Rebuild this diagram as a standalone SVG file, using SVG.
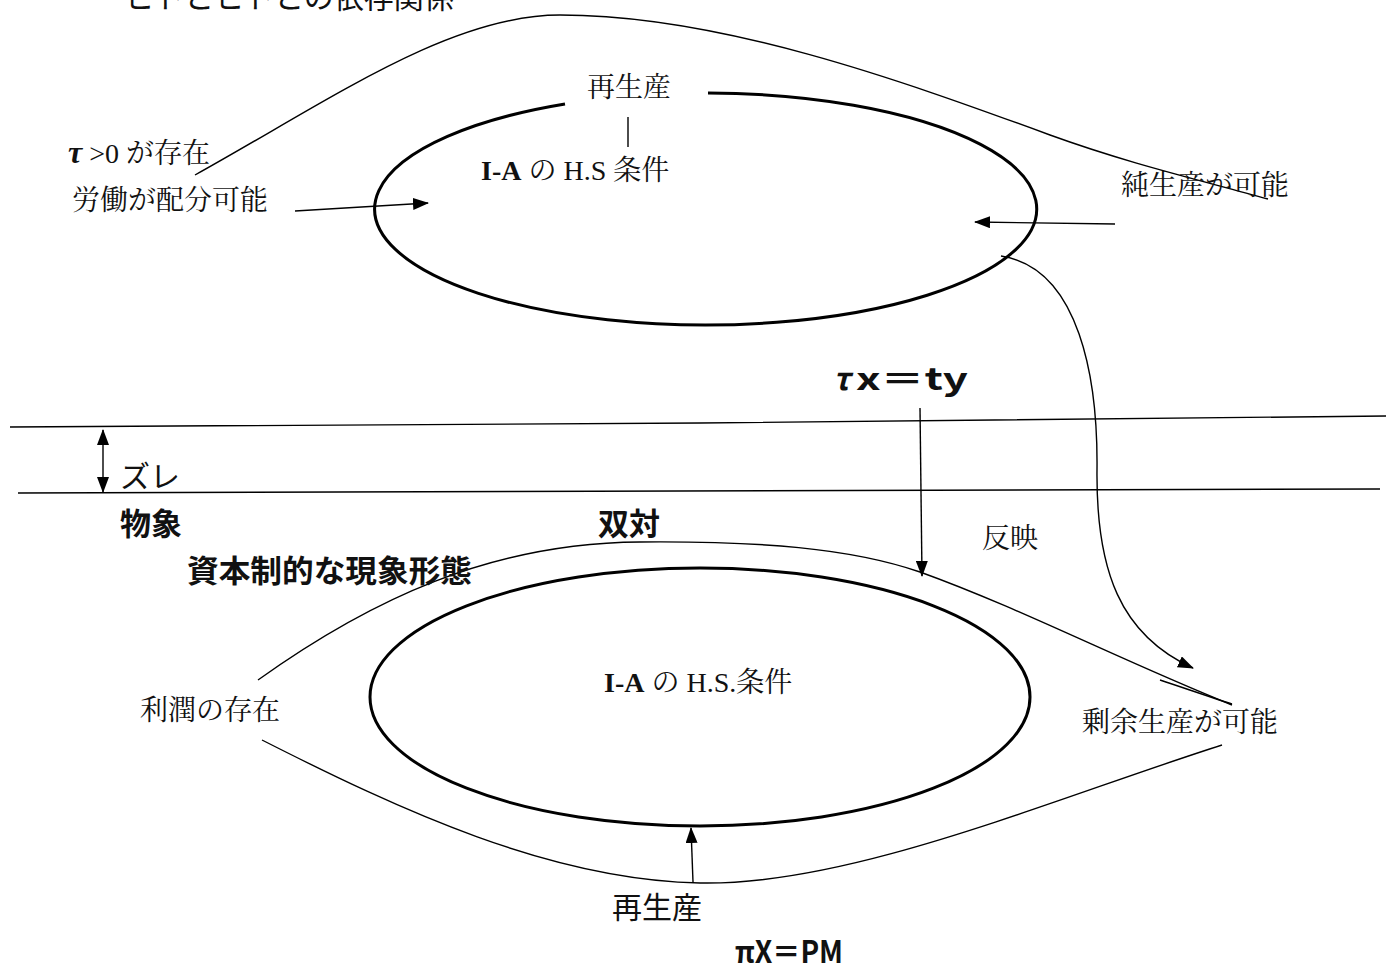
<svg xmlns="http://www.w3.org/2000/svg" width="1386" height="970" viewBox="0 0 1386 970">
<defs>
<marker id="ah" viewBox="0 0 16 12" refX="15" refY="6" markerWidth="16" markerHeight="12" markerUnits="userSpaceOnUse" orient="auto-start-reverse">
<path d="M0,0 L16,6 L0,12 Z" fill="#000"/>
</marker>
</defs>
<style>
.thin{fill:none;stroke:#000;stroke-width:1.4}
.thick{fill:none;stroke:#000;stroke-width:3}
.serif{font-family:"Liberation Serif","Noto Serif CJK JP","Noto Sans CJK JP",serif;font-size:28px;fill:#111}
.sans{font-family:"Noto Sans CJK JP",sans-serif;font-size:30px;fill:#111}
.bold{font-family:"Noto Sans CJK JP",sans-serif;font-size:31px;font-weight:700;fill:#111}
</style>
<rect width="1386" height="970" fill="#fff"/>

<g id="title"><text class="sans" x="124" y="8" font-size="32">ヒトとヒトとの依存関係</text></g>

<g id="connectors">
<path class="thin" d="M195,175 C330,100 450,15 560,15 C720,15 900,80 1050,135 C1130,164 1200,180 1268,199"/>
<path class="thin" d="M295,211 L428,203" marker-end="url(#ah)"/>
<path class="thin" d="M1115,224 L975,222" marker-end="url(#ah)"/>
<path class="thin" d="M628,117 L628,147"/>
<path class="thin" d="M1001,256 C1080,268 1098,380 1097,470 C1096,570 1120,635 1193,668" marker-end="url(#ah)"/>
<path class="thin" d="M10,427 L700,423 L1386,416"/>
<path class="thin" d="M18,493 L1380,489"/>
<path class="thin" d="M103,430 L103,492" marker-start="url(#ah)" marker-end="url(#ah)"/>
<path class="thin" d="M920,408 L922,576" marker-end="url(#ah)"/>
<path class="thin" d="M258,680 C370,600 490,543 640,542 C760,541 850,548 920,572 C1020,608 1120,660 1232,705"/>
<path class="thin" d="M1160,680 C1190,690 1210,697 1232,704"/>
<path class="thin" d="M262,740 C400,810 550,880 700,883 C850,886 1050,800 1222,745"/>
<path class="thin" d="M693,882 L691,828" marker-end="url(#ah)"/>
</g>

<g id="upper-ellipse">
<path class="thick" d="M708,93 A331,116 0 1 1 565,104"/>
<text class="serif" x="481" y="180"><tspan font-weight="700">I-A</tspan> の H.S 条件</text>
</g>
<g id="n-saiseisan-top"><text class="serif" x="587" y="97">再生産</text></g>
<g id="n-tau"><text class="serif" x="68" y="163"><tspan font-weight="700" font-style="italic" font-size="32">τ</tspan> &gt;0 が存在</text></g>
<g id="n-roudou"><text class="serif" x="72" y="210">労働が配分可能</text></g>
<g id="n-junseisan"><text class="serif" x="1121" y="195">純生産が可能</text></g>

<g id="n-tauxty"><text class="bold" x="833" y="390" font-size="30"><tspan font-style="italic">τ</tspan><tspan x="856" textLength="112" lengthAdjust="spacingAndGlyphs">x＝ty</tspan></text></g>
<g id="n-zure"><text class="sans" x="120" y="487">ズレ</text></g>
<g id="n-busshou"><text class="bold" x="120" y="535">物象</text></g>
<g id="n-soutai"><text class="bold" x="598" y="535">双対</text></g>
<g id="n-shihon"><text class="bold" x="187" y="582" textLength="285" lengthAdjust="spacingAndGlyphs">資本制的な現象形態</text></g>
<g id="n-hanei"><text class="serif" x="982" y="548" font-size="26">反映</text></g>

<g id="lower-ellipse">
<ellipse class="thick" cx="700" cy="697" rx="330" ry="129"/>
<text class="serif" x="604" y="692"><tspan font-weight="700">I-A</tspan> の H.S.条件</text>
</g>
<g id="n-rijun"><text class="serif" x="140" y="720">利潤の存在</text></g>
<g id="n-joyo"><text class="serif" x="1082" y="732">剰余生産が可能</text></g>
<g id="n-saiseisan-bottom"><text class="sans" x="612" y="918" font-size="29">再生産</text></g>
<g id="n-pixpm"><text class="bold" x="735" y="963" font-size="32" textLength="108" lengthAdjust="spacingAndGlyphs">πX＝PM</text></g>
</svg>
